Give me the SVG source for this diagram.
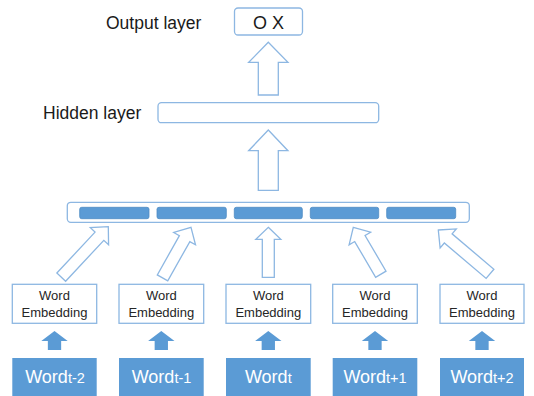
<svg xmlns="http://www.w3.org/2000/svg" width="534" height="396" viewBox="0 0 534 396">
<style>
.bg{fill:#ffffff}
.out{fill:#ffffff;stroke:#8DB7E2;stroke-width:1.3}
.seg{fill:#5B9BD5;stroke:#4E8BC4;stroke-width:0.8}
.arr{fill:#ffffff;stroke:#8DB7E2;stroke-width:1.3;stroke-linejoin:miter}
.farr{fill:#5B9BD5}
.wbox{fill:#5B9BD5}
.lbl{font-family:"Liberation Sans","Noto Sans",sans-serif;fill:#1a1a1a}
.emb{font-family:"Liberation Sans","Noto Sans",sans-serif;font-size:13px;fill:#262626;text-anchor:middle}
.wtx{font-family:"Liberation Sans","Noto Sans",sans-serif;fill:#ffffff;text-anchor:middle}
</style>
<defs>
<path id="bigArrA" d="M0,0 L19.65,20 L10,20 L10,52.7 L-10,52.7 L-10,20 L-19.65,20 Z"/>
<path id="bigArrB" d="M0,0 L19.65,20.7 L10,20.7 L10,60.3 L-10,60.3 L-10,20.7 L-19.65,20.7 Z"/>
<path id="smallFill" d="M0,0 L13.2,10 L6.65,10 L6.65,19 L-6.65,19 L-6.65,10 L-13.2,10 Z"/>
</defs>
<rect class="bg" x="0" y="0" width="534" height="396"/>

<g id="output-layer">
<text class="lbl" x="106" y="29.3" font-size="17.5">Output layer</text>
<rect class="out" x="234.5" y="8" width="68" height="27" rx="3.5"/>
<text class="lbl" x="268.5" y="29.3" font-size="18" text-anchor="middle">O X</text>
</g>

<g id="hidden-layer">
<text class="lbl" x="43" y="119" font-size="17.5">Hidden layer</text>
<rect class="out" x="158" y="102.7" width="220.7" height="20" rx="3.5"/>
</g>

<g id="concat-layer">
<rect class="out" x="67.3" y="202.3" width="402" height="20" rx="3.5"/>
<rect class="seg" x="79.7" y="207.3" width="69.3" height="11.4" rx="2"/>
<rect class="seg" x="157" y="207.3" width="69.3" height="11.4" rx="2"/>
<rect class="seg" x="234.3" y="207.3" width="68" height="11.4" rx="2"/>
<rect class="seg" x="310.3" y="207.3" width="68.4" height="11.4" rx="2"/>
<rect class="seg" x="386.7" y="207.3" width="69" height="11.4" rx="2"/>
</g>

<g id="emb1"><rect class="out" x="12.3" y="284.3" width="84.4" height="39"/><text class="emb" x="54.5" y="300">Word</text><text class="emb" x="54.5" y="316.7">Embedding</text></g>
<g id="emb2"><rect class="out" x="119" y="284.3" width="84.7" height="39"/><text class="emb" x="161.3" y="300">Word</text><text class="emb" x="161.3" y="316.7">Embedding</text></g>
<g id="emb3"><rect class="out" x="226" y="284.3" width="84.7" height="39"/><text class="emb" x="268.3" y="300">Word</text><text class="emb" x="268.3" y="316.7">Embedding</text></g>
<g id="emb4"><rect class="out" x="332.7" y="284.3" width="84.6" height="39"/><text class="emb" x="375" y="300">Word</text><text class="emb" x="375" y="316.7">Embedding</text></g>
<g id="emb5"><rect class="out" x="440" y="284.3" width="84" height="39"/><text class="emb" x="482" y="300">Word</text><text class="emb" x="482" y="316.7">Embedding</text></g>

<g id="word1"><rect class="wbox" x="12.3" y="358" width="84.4" height="40"/><text class="wtx" x="55" y="383.3" font-size="18">Word<tspan font-size="14.5">t-2</tspan></text></g>
<g id="word2"><rect class="wbox" x="119" y="358" width="84.7" height="40"/><text class="wtx" x="161.5" y="383.3" font-size="18">Word<tspan font-size="14.5">t-1</tspan></text></g>
<g id="word3"><rect class="wbox" x="226" y="358" width="84.7" height="40"/><text class="wtx" x="268.3" y="383.3" font-size="18">Word<tspan font-size="14.5">t</tspan></text></g>
<g id="word4"><rect class="wbox" x="332.7" y="358" width="84.6" height="40"/><text class="wtx" x="375" y="383.3" font-size="18">Word<tspan font-size="14.5">t+1</tspan></text></g>
<g id="word5"><rect class="wbox" x="440" y="358" width="84" height="40"/><text class="wtx" x="482" y="383.3" font-size="18">Word<tspan font-size="14.5">t+2</tspan></text></g>

<g id="connectors">
<use href="#bigArrA" class="arr" transform="translate(268.3,42.3)"/>
<use href="#bigArrB" class="arr" transform="translate(268.3,130)"/>
<path class="arr" transform="translate(108.3,226.7) rotate(43)" d="M0,0 L12.5,13 L6,13 L6,69 L-6,69 L-6,13 L-12.5,13 Z"/>
<path class="arr" transform="translate(191,227.3) rotate(29.4)" d="M0,0 L12.5,13 L6,13 L6,58 L-6,58 L-6,13 L-12.5,13 Z"/>
<path class="arr" transform="translate(268.3,227.3)" d="M0,0 L12.5,12 L6,12 L6,50 L-6,50 L-6,12 L-12.5,12 Z"/>
<path class="arr" transform="translate(353.3,227.3) rotate(-30.4)" d="M0,0 L12.5,13 L6,13 L6,54.4 L-6,54.4 L-6,13 L-12.5,13 Z"/>
<path class="arr" transform="translate(438.3,230) rotate(-49.7)" d="M0,0 L12.5,13 L6,13 L6,67.8 L-6,67.8 L-6,13 L-12.5,13 Z"/>
<use href="#smallFill" class="farr" transform="translate(54.5,331)"/>
<use href="#smallFill" class="farr" transform="translate(161.3,331)"/>
<use href="#smallFill" class="farr" transform="translate(268.3,331)"/>
<use href="#smallFill" class="farr" transform="translate(375,331)"/>
<use href="#smallFill" class="farr" transform="translate(482,331)"/>
</g>
</svg>
